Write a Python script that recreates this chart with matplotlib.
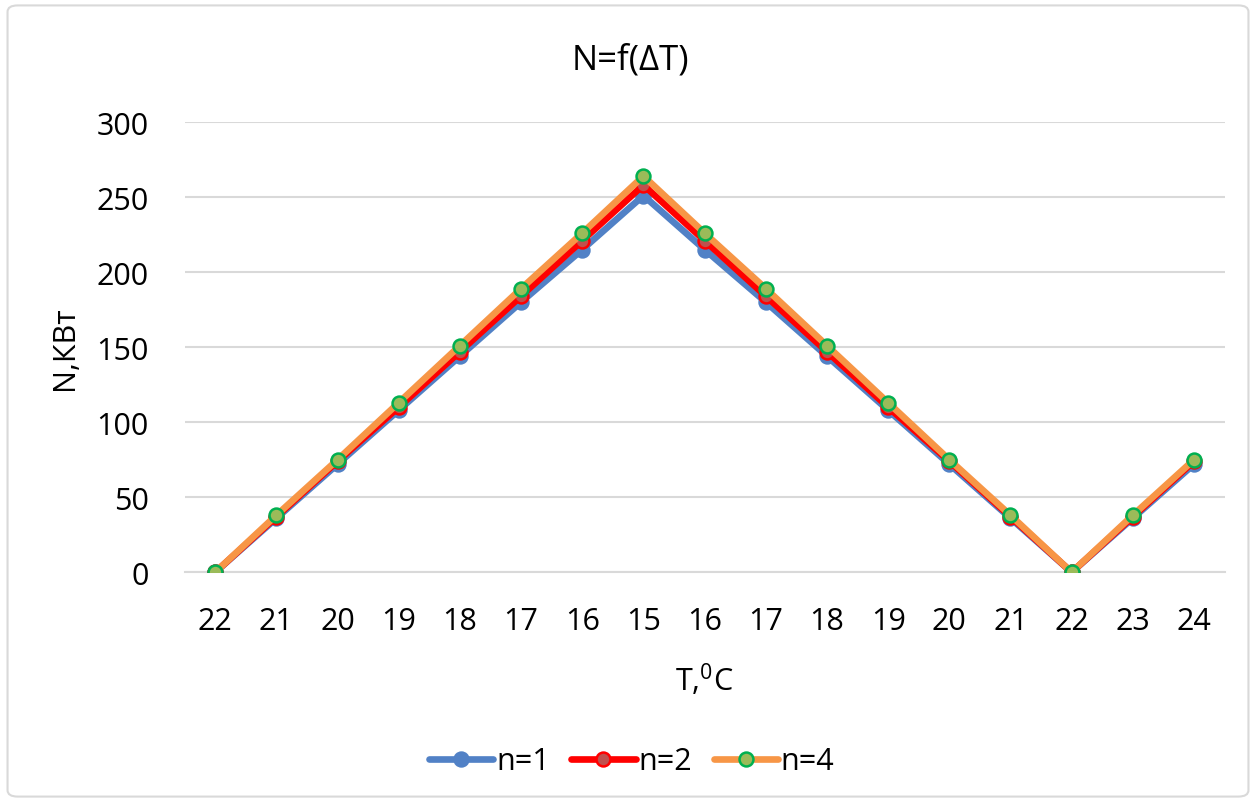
"""N=f(dT) chart: power versus temperature for three n values."""

import matplotlib

matplotlib.use("Agg")
import matplotlib.pyplot as plt
from matplotlib.patches import FancyBboxPatch

plt.rcParams["font.family"] = ["Open Sans", "DejaVu Sans"]
plt.rcParams["mathtext.default"] = "regular"

temps = ["22", "21", "20", "19", "18", "17", "16", "15", "16",
         "17", "18", "19", "20", "21", "22", "23", "24"]
n1 = [0, 36, 72, 108, 144, 180, 215, 251, 215, 180, 144, 108, 72, 36, 0, 36, 72]
n2 = [0, 37, 74, 110, 147, 184, 221, 258, 221, 184, 147, 110, 74, 37, 0, 37, 74]
n4 = [0, 38, 75, 113, 151, 189, 226, 264, 226, 189, 151, 113, 75, 38, 0, 38, 75]

series = [
    ("n=1", n1, "#5181C6", "#5181C6", "#5181C6"),
    ("n=2", n2, "#FF0000", "#C0504D", "#FF0000"),
    ("n=4", n4, "#F79646", "#9BBB59", "#00B050"),
]

fig = plt.figure(figsize=(12.56, 8.04), dpi=100)
border = FancyBboxPatch((0.006, 0.008), 0.988, 0.984, boxstyle="round,pad=0,rounding_size=0.008",
                        transform=fig.transFigure, facecolor="none",
                        edgecolor="#D9D9D9", linewidth=1.5, zorder=-10)
fig.patches.append(border)
ax = fig.add_axes([0.147, 0.287, 0.828, 0.56])
ax.patch.set_alpha(0)

x = list(range(len(temps)))
for label, vals, lc, mfc, mec in series:
    ax.plot(x, vals, color=lc, linewidth=4.8, marker="o", markersize=10,
            markerfacecolor=mfc, markeredgecolor=mec, markeredgewidth=1.8,
            label=label, solid_capstyle="round", zorder=3)

ax.set_xlim(-0.5, len(temps) - 0.5)
ax.set_ylim(0, 300)
ax.set_yticks(range(0, 301, 50))
ax.set_xticks(x)
ax.set_xticklabels(temps)
ax.tick_params(axis="both", length=0, labelsize=22)
ax.tick_params(axis="y", pad=26)
ax.tick_params(axis="x", pad=24)
ax.grid(axis="y", color="#D9D9D9", linewidth=1.5)
ax.set_axisbelow(True)
for side in ["top", "right", "left"]:
    ax.spines[side].set_visible(False)
ax.spines["bottom"].set_color("#D9D9D9")
ax.spines["bottom"].set_linewidth(1.5)

fig.text(0.502, 0.925, "N=f(ΔT)", fontsize=25, ha="center", va="center")
ax.set_ylabel("N,КВт", fontsize=22)
ax.yaxis.set_label_coords(-0.115, 0.5)
ax.set_xlabel("T,$^{0}$C", fontsize=22)
ax.xaxis.set_label_coords(0.5, -0.238)
ax.xaxis.label.set_va("center")
ax.yaxis.label.set_va("center")

ax.legend(loc="center", bbox_to_anchor=(0.43, -0.42), ncol=3, frameon=False,
          fontsize=22, handlelength=2.1, handletextpad=0.1, columnspacing=0.7)

fig.savefig("out.png", dpi=100)
